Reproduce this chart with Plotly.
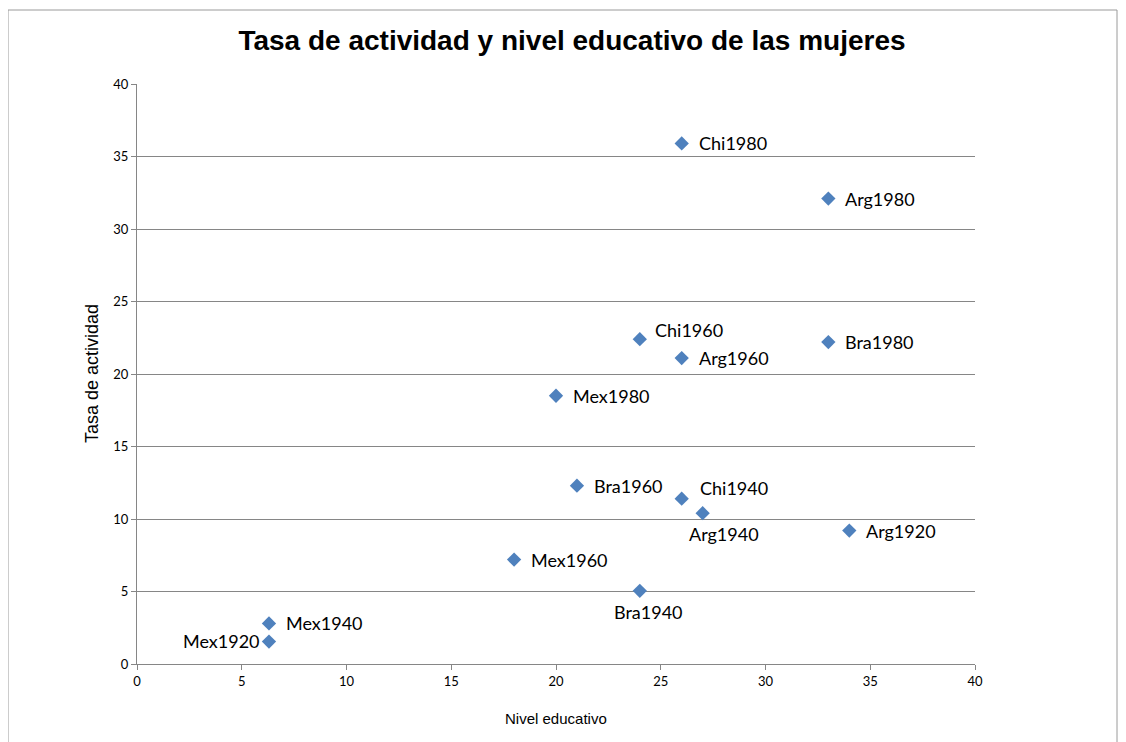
import plotly.graph_objects as go

# Data
labels = ["Chi1980", "Arg1980", "Chi1960", "Arg1960", "Bra1980", "Mex1980",
          "Bra1960", "Chi1940", "Arg1940", "Arg1920", "Mex1960", "Bra1940",
          "Mex1940", "Mex1920"]
nivel_educativo = [26, 33, 24, 26, 33, 20, 21, 26, 27, 34, 18, 24, 6.3, 6.3]
tasa_actividad = [35.9, 32.1, 22.4, 21.1, 22.2, 18.5, 12.3, 11.4, 10.4, 9.2,
                  7.2, 5.05, 2.8, 1.55]

# label placement per point: (xanchor, xshift, yshift)
label_place = {
    "Chi1960": ("left", 13, 9),
    "Chi1940": ("left", 16, 11),
    "Arg1940": ("center", 21, -21),
    "Bra1940": ("center", 9, -21),
    "Mex1920": ("right", -7, 1),
}

x_ticks = [0, 5, 10, 15, 20, 25, 30, 35, 40]
y_ticks = [0, 5, 10, 15, 20, 25, 30, 35, 40]

fig = go.Figure()

fig.add_trace(go.Scatter(
    x=nivel_educativo,
    y=tasa_actividad,
    mode="markers",
    marker=dict(symbol="diamond", size=11, color="#4F81BD"),
    cliponaxis=False,
    showlegend=False,
))

# page body has an 8px margin, so positions below are reference minus 8
W, H = 1126, 742
left, top = 129, 76
pw, ph = 838, 580
right = W - left - pw
bottom = H - top - ph

annotations = []
for name, xv, yv in zip(labels, nivel_educativo, tasa_actividad):
    anchor, dx, dy = label_place.get(name, ("left", 15, 0))
    annotations.append(dict(
        x=xv, y=yv, xref="x", yref="y", text=name, showarrow=False,
        xanchor=anchor, yanchor="middle", xshift=dx, yshift=dy,
        font=dict(family="Lato", size=18, color="#000000"),
    ))

annotations += [
    dict(
        text="Nivel educativo", xref="paper", yref="paper",
        x=0.5, y=(H - bottom - 710) / ph, showarrow=False,
        xanchor="center", yanchor="middle",
        font=dict(family="Liberation Sans", size=15, color="#000000"),
    ),
    dict(
        text="Tasa de actividad", xref="paper", yref="paper",
        x=(84 - left) / pw, y=0.5, showarrow=False, textangle=-90,
        xanchor="center", yanchor="middle",
        font=dict(family="Liberation Sans", size=18, color="#000000"),
    ),
]

# Chart area border (Excel style)
fig.add_shape(
    type="rect", xref="paper", yref="paper",
    x0=(0 - left) / pw, x1=(1109 - left) / pw,
    y0=(H - bottom - 760) / ph, y1=(H - bottom - 2) / ph,
    line=dict(color="#9a9a9a", width=1),
    fillcolor="rgba(0,0,0,0)",
    layer="below",
)

fig.update_layout(
    width=W,
    height=H,
    margin=dict(l=left, r=right, t=top, b=bottom),
    paper_bgcolor="white",
    plot_bgcolor="white",
    title=dict(
        text="<b>Tasa de actividad y nivel educativo de las mujeres</b>",
        font=dict(family="Liberation Sans", size=28, color="#000000"),
        x=564 / W, xanchor="center",
        y=1 - 32 / H, yanchor="middle",
    ),
    xaxis=dict(
        range=[0, 40],
        tickvals=x_ticks,
        showgrid=False,
        zeroline=False,
        showline=True,
        linecolor="#868686",
        ticks="outside",
        ticklen=5,
        tickcolor="#868686",
        tickfont=dict(family="Lato", size=13, color="#000000"),
    ),
    yaxis=dict(
        range=[0, 40],
        tickvals=y_ticks,
        showgrid=True,
        gridcolor="#868686",
        gridwidth=1,
        zeroline=False,
        showline=True,
        linecolor="#868686",
        ticks="outside",
        ticklen=5,
        tickcolor="#868686",
        tickfont=dict(family="Lato", size=13, color="#000000"),
    ),
    annotations=annotations,
)

fig.write_html("out.html")
